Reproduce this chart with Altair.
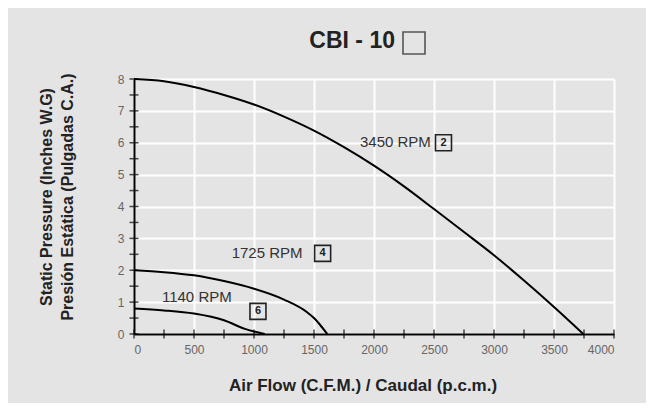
import altair as alt
import pandas as pd

# ---- data ----
x_3450 = [0, 250, 500, 750, 1000, 1250, 1500, 1750, 2000, 2250, 2500, 2750, 3000, 3250, 3500, 3745]
y_3450 = [8.0, 7.93, 7.75, 7.50, 7.20, 6.82, 6.38, 5.86, 5.28, 4.63, 3.92, 3.20, 2.47, 1.68, 0.85, 0.0]

x_1725 = [0, 250, 500, 750, 1000, 1250, 1440, 1500, 1550, 1610]
y_1725 = [2.0, 1.94, 1.84, 1.66, 1.42, 1.08, 0.69, 0.50, 0.29, 0.0]

x_1140 = [0, 250, 500, 750, 925, 1000, 1090]
y_1140 = [0.8, 0.74, 0.64, 0.43, 0.16, 0.08, 0.0]

x_labels = [0, 500, 1000, 1500, 2000, 2500, 3000, 3500, 4000]
y_labels = [0, 1, 2, 3, 4, 5, 6, 7, 8]
x_minor = [0, 250, 500, 750, 1000, 1250, 1500, 1750, 2000, 2250, 2500, 2750,
           3000, 3250, 3500, 3750, 4000]
y_minor = [0, 0.5, 1, 1.5, 2, 2.5, 3, 3.5, 4, 4.5, 5, 5.5, 6, 6.5, 7, 7.5, 8]

rpm_labels = ["3450 RPM", "1725 RPM", "1140 RPM"]
rpm_label_x = [1883, 814, 233]
rpm_label_y = [6.03, 2.55, 1.16]
box_digits = ["2", "4", "6"]
box_x = [2579, 1572, 1033]
box_y = [6.0, 2.53, 0.71]

title_text = "CBI - 10"
x_title = "Air Flow (C.F.M.) / Caudal (p.c.m.)"
y_title = ["Static Pressure (Inches W.G)", "Presión Estática (Pulgadas C.A.)"]

# ---- build tables ----
rows = []
for name, xs, ys in [("3450", x_3450, y_3450), ("1725", x_1725, y_1725), ("1140", x_1140, y_1140)]:
    for a, b in zip(xs, ys):
        rows.append({"rpm": name, "x": a, "y": b})
curves = pd.DataFrame(rows)

FONT = "Liberation Sans"
xscale = alt.Scale(domain=[0, 4000], nice=False, zero=True)
yscale = alt.Scale(domain=[0, 8], nice=False, zero=True)

X = alt.X("x:Q", scale=xscale, title=None,
          axis=alt.Axis(values=x_labels, format="d", grid=True, gridColor="white",
                        gridWidth=2, gridOpacity=1,
                        domainColor="black", domainWidth=2, ticks=False,
                        labelColor="#666", labelFontSize=12, labelPadding=10, labelFont=FONT))
Y = alt.Y("y:Q", scale=yscale, title=None,
          axis=alt.Axis(values=y_labels, format="d", grid=True, gridColor="white",
                        gridWidth=2, gridOpacity=1,
                        domainColor="black", domainWidth=2, ticks=False,
                        labelColor="#666", labelFontSize=12, labelPadding=10, labelFont=FONT))

lines = alt.Chart(curves).mark_line(color="black", strokeWidth=2, interpolate="monotone").encode(
    x=X, y=Y, detail="rpm:N")

xt = pd.DataFrame({"x": x_minor, "y": [0] * len(x_minor)})
xticks = alt.Chart(xt).mark_tick(orient="vertical", size=9, thickness=1.5, color="black").encode(
    x=X, y=Y)
yt = pd.DataFrame({"x": [0] * len(y_minor), "y": y_minor})
yticks = alt.Chart(yt).mark_tick(orient="horizontal", size=9, thickness=1.5, color="black").encode(
    x=X, y=Y)

lab = pd.DataFrame({"t": rpm_labels, "x": rpm_label_x, "y": rpm_label_y})
labels = alt.Chart(lab).mark_text(align="left", baseline="middle", fontSize=15, font=FONT,
                                  color="#333").encode(x=X, y=Y, text="t:N")

bx = pd.DataFrame({"t": box_digits, "x": box_x, "y": box_y})
boxes = alt.Chart(bx).mark_point(shape="square", size=256, filled=False, color="#222",
                                 strokeWidth=1.6, opacity=1).encode(x=X, y=Y)
digits = alt.Chart(bx).mark_text(align="center", baseline="middle", fontSize=11, fontWeight="bold",
                                 font=FONT, color="#222").encode(x=X, y=Y, text="t:N")

one = pd.DataFrame({"k": [0]})
title = alt.Chart(one).mark_text(align="right", baseline="middle", fontSize=23, fontWeight="bold",
                                 font=FONT, color="#222").encode(
    x=alt.value(261), y=alt.value(-38), text=alt.value(title_text))
title_box = alt.Chart(one).mark_point(shape="square", size=484, filled=False, color="#555",
                                      strokeWidth=1.6, opacity=1).encode(
    x=alt.value(280), y=alt.value(-36))
xtitle = alt.Chart(one).mark_text(align="center", baseline="middle", fontSize=17, fontWeight="bold",
                                  font=FONT, color="#222").encode(
    x=alt.value(229), y=alt.value(307), text=alt.value(x_title))
ytitle1 = alt.Chart(one).mark_text(align="center", baseline="middle", fontSize=16, fontWeight="bold",
                                   font=FONT, color="#222", angle=270).encode(
    x=alt.value(-87), y=alt.value(118), text=alt.value(y_title[0]))
ytitle2 = alt.Chart(one).mark_text(align="center", baseline="middle", fontSize=16, fontWeight="bold",
                                   font=FONT, color="#222", angle=270).encode(
    x=alt.value(-66), y=alt.value(118), text=alt.value(y_title[1]))

chart = alt.layer(lines, xticks, yticks, labels, boxes, digits, title, title_box,
                  xtitle, ytitle1, ytitle2).properties(
    width=480, height=255,
    padding={"left": 126, "top": 71, "right": 32, "bottom": 69},
    autosize=alt.AutoSizeParams(type="none"),
).configure(background="#e4e4e4").configure_view(strokeWidth=0)

chart.save("out.html", embed_options={"renderer": "svg", "actions": False})
